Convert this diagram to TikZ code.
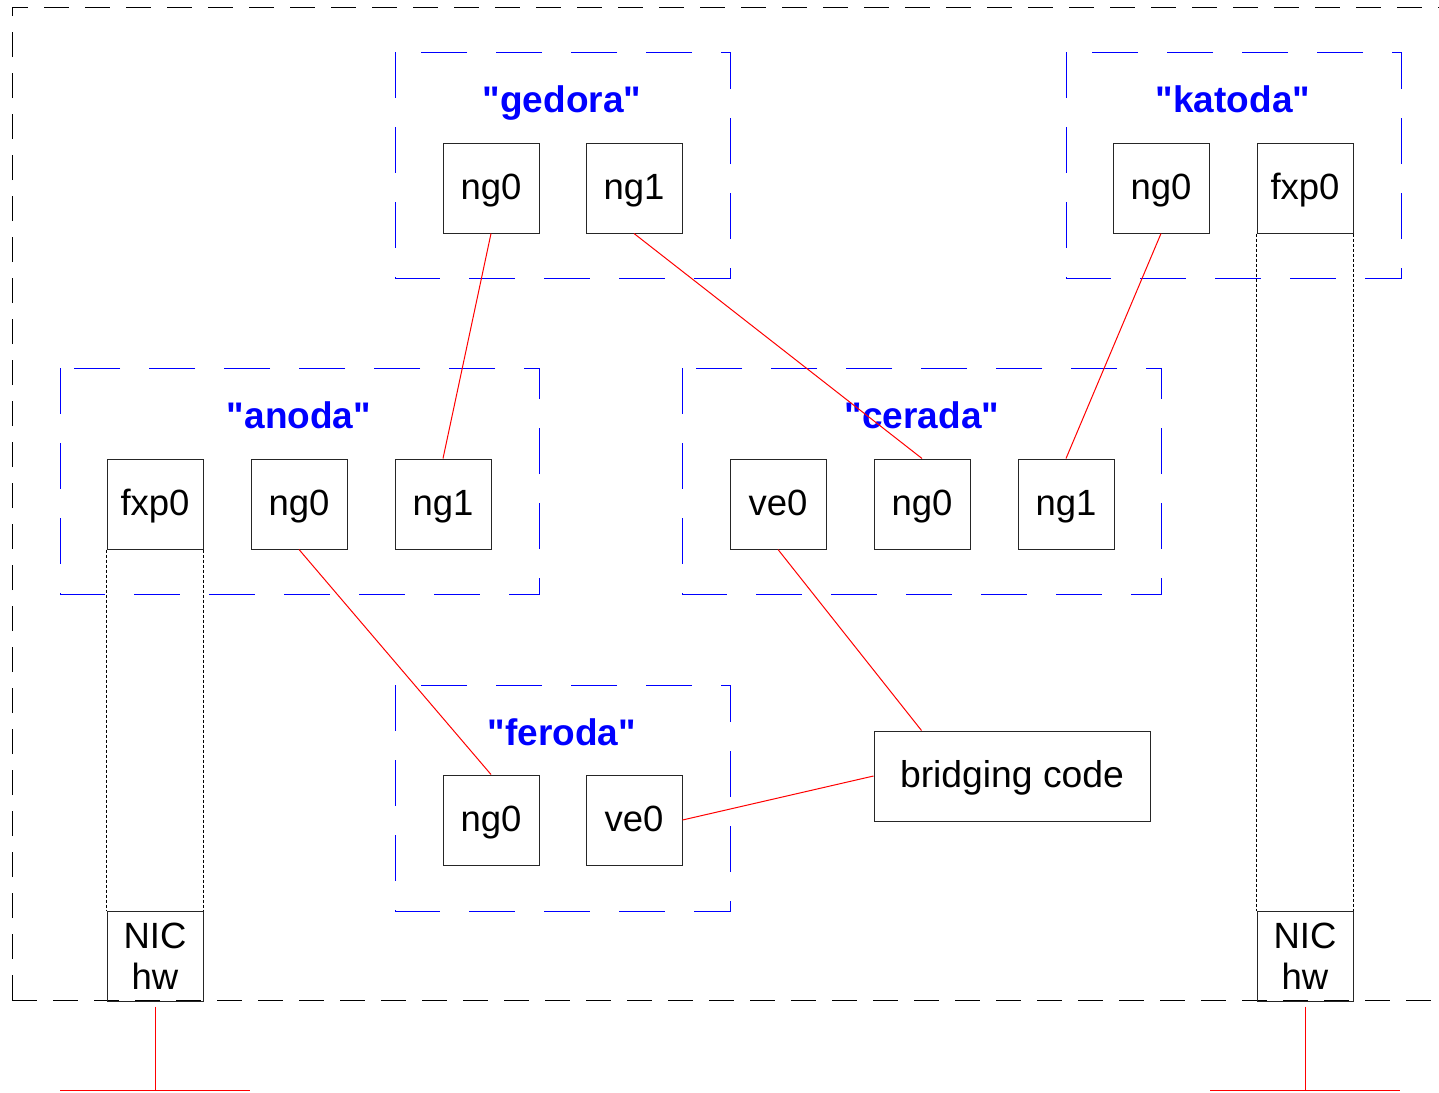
\documentclass[tikz,border=0pt]{standalone}
\usepackage{fontspec}
\setmainfont{Liberation Sans}[Ligatures=TeXOff]
\newcommand{\qq}[1]{\symbol{34}#1\symbol{34}}
\begin{document}
\begin{tikzpicture}[x=1pt,y=-1pt,
 boxbase/.style={draw=black!85,line width=1pt,minimum width=96pt,minimum height=90pt,inner sep=0pt,font=\fontsize{36.5}{41}\selectfont},
 box/.style={boxbase,text height=22pt,text depth=0pt},
 grp/.style={draw=blue,line width=1pt,dash pattern=on 46pt off 29pt},
 outer/.style={draw=black,line width=1pt,dash pattern=on 25pt off 16pt},
 lbl/.style={text=blue,inner sep=0pt,anchor=base,font=\fontsize{37}{41}\selectfont\bfseries},
 link/.style={draw=red,line width=1pt},
 hwlink/.style={draw=black,line width=0.8pt,dash pattern=on 3pt off 2pt}]
\useasboundingbox (0,0) rectangle (1439,1092);
\clip (0,0) rectangle (1439,1092);
% outer frame
\draw[outer] (12,1000) -- (12,7) -- (1470,7);
\draw[outer] (12,1000) -- (1470,1000);
% groups
\draw[grp] (395,52) rectangle (730,278);
\draw[grp] (1066,52) rectangle (1401,278);
\draw[grp] (60,368) rectangle (539,594);
\draw[grp] (682,368) rectangle (1161,594);
\draw[grp] (395,685) rectangle (730,911);
% labels
\node[lbl] (lgedora) at (562,112) {\qq{gedora}};
\node[lbl] (lkatoda) at (1233,112) {\qq{katoda}};
\node[lbl] (lanoda) at (299,428) {\qq{anoda}};
\node[lbl] (lcerada) at (922,428) {\qq{cerada}};
\node[lbl] (lferoda) at (562,745) {\qq{feroda}};
% boxes
\node[box] (gng0) at (491,188) {ng0};
\node[box] (gng1) at (634,188) {ng1};
\node[box] (kng0) at (1161,188) {ng0};
\node[box] (kfxp0) at (1305,188) {fxp0};
\node[box] (afxp0) at (155,504) {fxp0};
\node[box] (ang0) at (299,504) {ng0};
\node[box] (ang1) at (443,504) {ng1};
\node[box] (cve0) at (778,504) {ve0};
\node[box] (cng0) at (922,504) {ng0};
\node[box] (cng1) at (1066,504) {ng1};
\node[box] (fng0) at (491,820) {ng0};
\node[box] (fve0) at (634,820) {ve0};
\node[box,minimum width=276pt,font=\fontsize{37.3}{41}\selectfont] (br) at (1012,776) {bridging code};
\node[boxbase,align=center] (nicl) at (155,956) {NIC\\hw};
\node[boxbase,align=center] (nicr) at (1305,956) {NIC\\hw};
% hardware dotted links
\draw[hwlink] (afxp0.south west) -- (nicl.north west);
\draw[hwlink] (afxp0.south east) -- (nicl.north east);
\draw[hwlink] (kfxp0.south west) -- (nicr.north west);
\draw[hwlink] (kfxp0.south east) -- (nicr.north east);
% red links
\draw[link] (gng0.south) -- (ang1.north);
\draw[link] (gng1.south) -- (cng0.north);
\draw[link] (kng0.south) -- (cng1.north);
\draw[link] (ang0.south) -- (fng0.north);
\draw[link] (cve0.south) -- ([xshift=48pt]br.north west);
\draw[link] (fve0.east) -- (br.west);
% wires
\coordinate (wl) at (155,1090);
\coordinate (wll) at (60,1090);
\coordinate (wlr) at (250,1090);
\coordinate (wr) at (1305,1090);
\coordinate (wrl) at (1210,1090);
\coordinate (wrr) at (1400,1090);
\draw[link] ([yshift=-5pt]nicl.south) -- (wl);
\draw[link] (wll) -- (wlr);
\draw[link] ([yshift=-5pt]nicr.south) -- (wr);
\draw[link] (wrl) -- (wrr);
\end{tikzpicture}
\end{document}
